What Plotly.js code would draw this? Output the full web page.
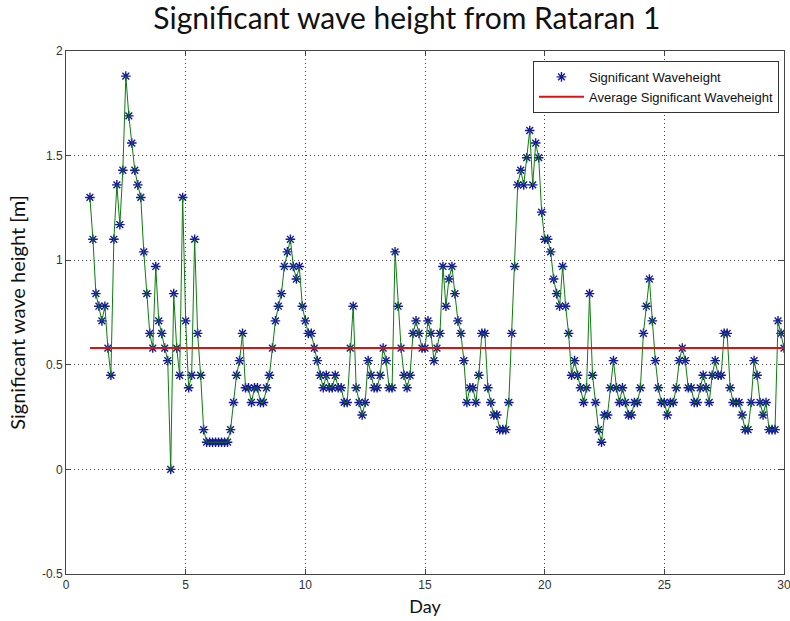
<!DOCTYPE html>
<html>
<head>
<meta charset="utf-8">
<script src="https://cdn.plot.ly/plotly-3.0.1.min.js"></script>
<style>html,body{margin:0;padding:0;background:#fff;}#chart{width:790px;height:621px;}</style>
</head>
<body>
<div id="chart"></div>
<script>
// Sampling of the record: starts on day 1, one value every 3 hours
const startDay = 1;
const samplesPerDay = 8;

// Significant wave height [m] (day 1 ... day 30)
const waveHeight = [
  1.30, 1.10, 0.84, 0.78, 0.71, 0.78, 0.58, 0.45,   // day 1
  1.10, 1.36, 1.17, 1.43, 1.88, 1.69, 1.56, 1.43,   // day 2
  1.36, 1.30, 1.04, 0.84, 0.65, 0.58, 0.97, 0.71,   // day 3
  0.65, 0.58, 0.52, 0.00, 0.84, 0.58, 0.45, 1.30,   // day 4
  0.71, 0.39, 0.45, 1.10, 0.65, 0.45, 0.19, 0.13,   // day 5
  0.13, 0.13, 0.13, 0.13, 0.13, 0.13, 0.13, 0.19,   // day 6
  0.32, 0.45, 0.52, 0.65, 0.39, 0.39, 0.32, 0.39,   // day 7
  0.39, 0.32, 0.32, 0.39, 0.45, 0.58, 0.71, 0.78,   // day 8
  0.84, 0.97, 1.04, 1.10, 0.97, 0.91, 0.97, 0.78,   // day 9
  0.71, 0.65, 0.65, 0.58, 0.52, 0.45, 0.39, 0.45,   // day 10
  0.39, 0.39, 0.45, 0.39, 0.39, 0.32, 0.32, 0.58,   // day 11
  0.78, 0.39, 0.32, 0.26, 0.32, 0.52, 0.45, 0.39,   // day 12
  0.39, 0.45, 0.58, 0.52, 0.39, 0.39, 1.04, 0.78,   // day 13
  0.58, 0.45, 0.39, 0.45, 0.65, 0.71, 0.65, 0.58,   // day 14
  0.58, 0.71, 0.65, 0.52, 0.58, 0.65, 0.97, 0.78,   // day 15
  0.91, 0.97, 0.84, 0.71, 0.65, 0.52, 0.32, 0.39,   // day 16
  0.39, 0.32, 0.45, 0.65, 0.65, 0.39, 0.32, 0.26,   // day 17
  0.26, 0.19, 0.19, 0.19, 0.32, 0.65, 0.97, 1.36,   // day 18
  1.43, 1.36, 1.49, 1.62, 1.36, 1.56, 1.49, 1.23,   // day 19
  1.10, 1.10, 1.04, 0.91, 0.84, 0.78, 0.97, 0.78,   // day 20
  0.65, 0.45, 0.52, 0.45, 0.39, 0.32, 0.39, 0.84,   // day 21
  0.45, 0.32, 0.19, 0.13, 0.26, 0.26, 0.39, 0.52,   // day 22
  0.39, 0.32, 0.39, 0.32, 0.26, 0.26, 0.32, 0.32,   // day 23
  0.39, 0.65, 0.78, 0.91, 0.71, 0.52, 0.39, 0.32,   // day 24
  0.32, 0.26, 0.32, 0.32, 0.39, 0.52, 0.58, 0.52,   // day 25
  0.39, 0.39, 0.32, 0.32, 0.39, 0.45, 0.39, 0.32,   // day 26
  0.45, 0.52, 0.45, 0.45, 0.65, 0.65, 0.39, 0.32,   // day 27
  0.32, 0.32, 0.26, 0.19, 0.19, 0.32, 0.52, 0.45,   // day 28
  0.32, 0.26, 0.32, 0.19, 0.19, 0.19, 0.71, 0.65,   // day 29
  0.58                                              // day 30
];

// Average significant wave height [m] and the span it is drawn over
const averageHeight = 0.58;
const averageDays = [1, 30];

// Axis ticks
const xTickVals = [0, 5, 10, 15, 20, 25, 30];
const xTickText = ['0', '5', '10', '15', '20', '25', '30'];
const yTickVals = [-0.5, 0, 0.5, 1, 1.5, 2];
const yTickText = ['-0.5', '0', '0.5', '1', '1.5', '2'];

// Series names
const seriesName = 'Significant Waveheight';
const averageName = 'Average Significant Waveheight';

const days = waveHeight.map((_, i) => startDay + i / samplesPerDay);

const markers = {
  x: days, y: waveHeight, type: 'scatter', mode: 'markers', name: seriesName,
  marker: {symbol: 'asterisk-open', size: 8, color: '#14189c', line: {color: '#14189c', width: 1.4}},
  showlegend: true
};
const line = {
  x: days, y: waveHeight, type: 'scatter', mode: 'lines', name: seriesName,
  line: {color: '#0b7d0b', width: 1}, showlegend: false, hoverinfo: 'skip'
};
const avg = {
  x: averageDays, y: averageDays.map(() => averageHeight), type: 'scatter', mode: 'lines',
  name: averageName, line: {color: '#e01010', width: 2}
};

const axisCommon = {
  showline: true, mirror: 'ticks', linecolor: '#444', linewidth: 1,
  ticks: 'inside', ticklen: 5, tickcolor: '#444',
  showgrid: true, gridcolor: '#444', griddash: '1px,3px', gridwidth: 1,
  zeroline: false,
  tickfont: {family: 'Liberation Sans, Arial, sans-serif', size: 12, color: '#333'}
};

const layout = {
  width: 790, height: 621,
  margin: {l: 66, r: 6, t: 51, b: 47},
  paper_bgcolor: '#fff', plot_bgcolor: '#fff',
  title: {
    text: 'Significant wave height from Rataran 1',
    font: {family: 'Lato, Open Sans, sans-serif', size: 30, color: '#111'},
    x: 0.515, xanchor: 'center', y: 0.97, yanchor: 'middle'
  },
  xaxis: Object.assign({}, axisCommon, {
    range: [0, 30], tickmode: 'array', tickvals: xTickVals, ticktext: xTickText,
    ticklabeloverflow: 'allow',
    title: {text: 'Day', font: {family: 'Lato, Open Sans, sans-serif', size: 18, color: '#111'}, standoff: 8}
  }),
  yaxis: Object.assign({}, axisCommon, {
    range: [-0.5, 2], tickmode: 'array', tickvals: yTickVals, ticktext: yTickText,
    title: {text: 'Significant wave height [m]', font: {family: 'Lato, Open Sans, sans-serif', size: 20, color: '#111'}, standoff: 10}
  }),
  legend: {
    x: 0.993, xanchor: 'right', y: 0.981, yanchor: 'top',
    bgcolor: '#fff', bordercolor: '#333', borderwidth: 1,
    font: {family: 'Liberation Sans, Arial, sans-serif', size: 13, color: '#111'},
    itemwidth: 45, tracegroupgap: 0
  },
  showlegend: true
};

Plotly.newPlot('chart', [markers, line, avg], layout, {displayModeBar: false, staticPlot: true});
</script>
</body>
</html>
